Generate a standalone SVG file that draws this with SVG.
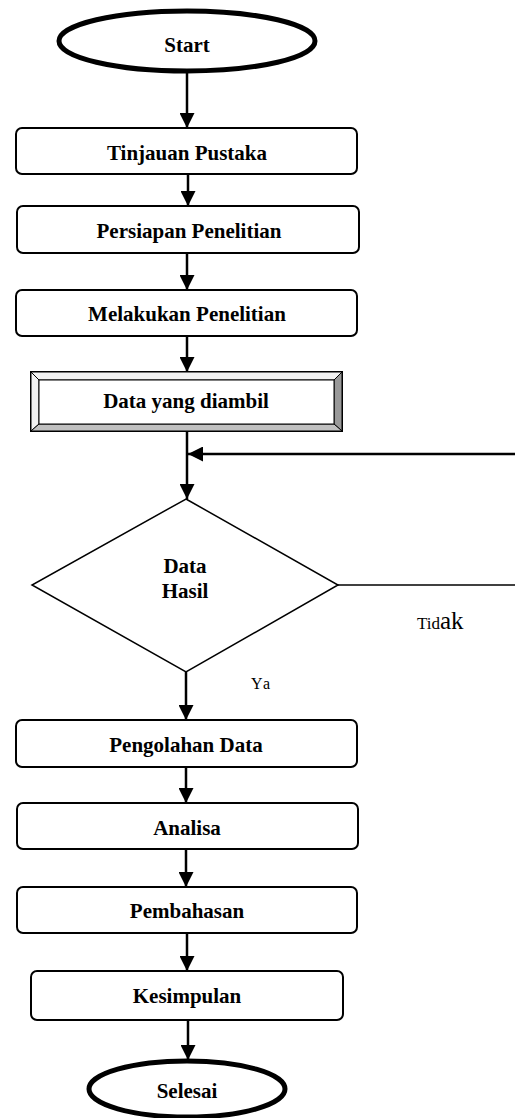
<svg xmlns="http://www.w3.org/2000/svg" width="515" height="1118" viewBox="0 0 515 1118">
<style>
.term{fill:#fff;stroke:#000;stroke-width:5}
.box{fill:#fff;stroke:#000;stroke-width:2}
.lbl{font-family:"Liberation Serif",serif;font-weight:bold;font-size:21px;text-anchor:middle;fill:#000}
.plain{font-family:"Liberation Serif",serif;fill:#000}
.conn{fill:none;stroke:#000;stroke-width:2.5}
.thin{fill:none;stroke:#000;stroke-width:1.5}
</style>
<defs>
<marker id="ah" markerUnits="userSpaceOnUse" markerWidth="15" markerHeight="15" refX="15" refY="7.5" orient="auto">
<path d="M0,0 L15,7.5 L0,15 z" fill="#000"/>
</marker>
</defs>
<rect width="515" height="1118" fill="#fff"/>
<g id="connectors">
<line class="conn" x1="187" y1="72" x2="187" y2="128" marker-end="url(#ah)"/>
<line class="conn" x1="188" y1="174" x2="188" y2="206" marker-end="url(#ah)"/>
<line class="conn" x1="187" y1="253" x2="187" y2="290" marker-end="url(#ah)"/>
<line class="conn" x1="187" y1="336" x2="187" y2="372" marker-end="url(#ah)"/>
<line class="conn" x1="187" y1="431" x2="187" y2="499" marker-end="url(#ah)"/>
<line class="conn" x1="515" y1="454" x2="188" y2="454" marker-end="url(#ah)"/>
<line class="thin" x1="338" y1="585" x2="515" y2="585"/>
<line class="conn" x1="186" y1="672" x2="186" y2="720" marker-end="url(#ah)"/>
<line class="conn" x1="186" y1="767" x2="186" y2="803" marker-end="url(#ah)"/>
<line class="conn" x1="186" y1="849" x2="186" y2="887" marker-end="url(#ah)"/>
<line class="conn" x1="187" y1="933" x2="187" y2="971" marker-end="url(#ah)"/>
<line class="conn" x1="188" y1="1020" x2="188" y2="1060" marker-end="url(#ah)"/>
<text class="plain" x="417" y="629"><tspan font-size="17">Tid</tspan><tspan font-size="25">ak</tspan></text>
<text class="plain" x="251" y="689" font-size="16" letter-spacing="2">Ya</text>
</g>
<g id="start">
<ellipse class="term" cx="187" cy="41" rx="128" ry="30"/>
<text class="lbl" x="187" y="52" font-size="24">Start</text>
</g>
<g id="tinjauan">
<rect class="box" x="16" y="128" width="341" height="46" rx="6"/>
<text class="lbl" x="187" y="160">Tinjauan Pustaka</text>
</g>
<g id="persiapan">
<rect class="box" x="17" y="206" width="342" height="47" rx="6"/>
<text class="lbl" x="189" y="238">Persiapan Penelitian</text>
</g>
<g id="melakukan">
<rect class="box" x="16" y="290" width="341" height="46" rx="6"/>
<text class="lbl" x="187" y="321">Melakukan Penelitian</text>
</g>
<g id="data-diambil">
<rect x="31" y="372" width="311" height="59" fill="#fff" stroke="#000" stroke-width="2"/>
<polygon points="31,372 342,372 334,380 39,380" fill="#f2f2f2" stroke="#000" stroke-width="1"/>
<polygon points="31,372 39,380 39,424 31,431" fill="#f2f2f2" stroke="#000" stroke-width="1"/>
<polygon points="342,372 342,431 334,424 334,380" fill="#999" stroke="#000" stroke-width="1"/>
<polygon points="31,431 39,424 334,424 342,431" fill="#c0c0c0" stroke="#000" stroke-width="1"/>
<rect x="39" y="380" width="295" height="44" fill="#fff" stroke="#000" stroke-width="1"/>
<text class="lbl" x="186" y="408">Data yang diambil</text>
</g>
<g id="keputusan">
<polygon class="thin" points="186,499 338,585 186,672 32,585" fill="#fff"/>
<text class="lbl" x="185" y="573">Data</text>
<text class="lbl" x="185" y="598">Hasil</text>
</g>
<g id="pengolahan">
<rect class="box" x="16" y="720" width="341" height="47" rx="6"/>
<text class="lbl" x="186" y="752">Pengolahan Data</text>
</g>
<g id="analisa">
<rect class="box" x="17" y="803" width="341" height="46" rx="6"/>
<text class="lbl" x="187" y="835">Analisa</text>
</g>
<g id="pembahasan">
<rect class="box" x="17" y="887" width="340" height="46" rx="6"/>
<text class="lbl" x="187" y="918">Pembahasan</text>
</g>
<g id="kesimpulan">
<rect class="box" x="31" y="971" width="312" height="49" rx="6"/>
<text class="lbl" x="187" y="1003">Kesimpulan</text>
</g>
<g id="selesai">
<ellipse class="term" cx="187" cy="1089" rx="98" ry="28"/>
<text class="lbl" x="187" y="1098">Selesai</text>
</g>
</svg>
